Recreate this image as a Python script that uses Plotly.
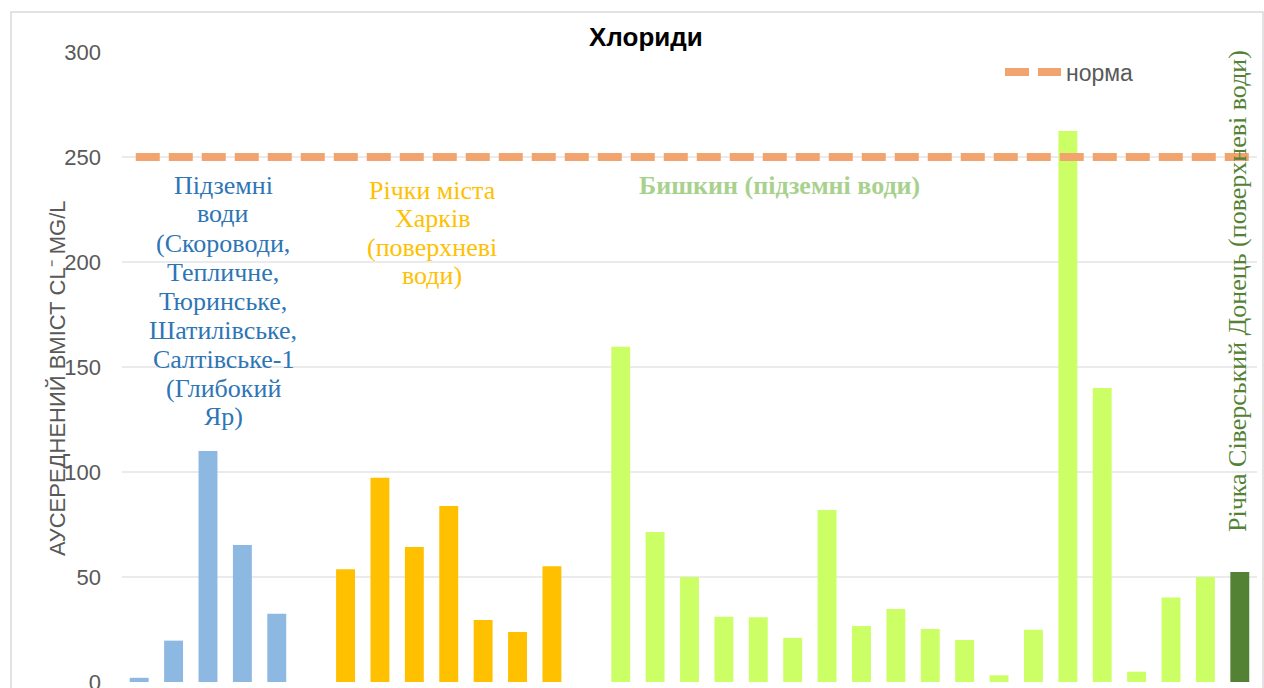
import plotly.graph_objects as go

# Chloride values, mg/L
groundwater = [2.0, 19.7, 110.0, 65.2, 32.5]                    # blue
kharkiv_rivers = [53.7, 97.3, 64.3, 83.8, 29.5, 23.8, 55.1]     # yellow
byshkyn = [159.7, 71.4, 50.0, 31.1, 30.8, 21.0, 81.9, 26.7, 34.8,
           25.2, 20.0, 3.2, 24.9, 262.4, 140.0, 4.9, 40.2, 50.0]  # light green
siverskyi_donets = [52.4]                                       # dark green
norm_value = 250

groundwater_label = ["Підземні", "води", "(Скороводи,", "Тепличне,", "Тюринське,",
                     "Шатилівське,", "Салтівське-1", "(Глибокий", "Яр)"]
rivers_label = ["Річки міста", "Харків", "(поверхневі", "води)"]
byshkyn_label = "Бишкин (підземні води)"
donets_label = "Річка Сіверський Донець (поверхневі води)"

# category slots: one empty slot between groups
groups = [groundwater, kharkiv_rivers, byshkyn, siverskyi_donets]
gaps = [1, 1, 0]
positions = []
start = 0
for i, g in enumerate(groups):
    positions.append(list(range(start, start + len(g))))
    start += len(g) + (gaps[i] if i < len(gaps) else 0)
n_slots = start

COLORS = ["#8DB8E1", "#FFC000", "#CCFF66", "#548235"]
SANS = "Liberation Sans, Arial, sans-serif"
SERIF = "Liberation Serif, Times New Roman, serif"

fig = go.Figure()
for g, pos, col in zip(groups, positions, COLORS):
    fig.add_trace(go.Bar(x=pos, y=g, marker=dict(color=col, line=dict(width=0)),
                         showlegend=False, hoverinfo="y"))

fig.add_trace(go.Scatter(x=[-0.1, n_slots - 0.5], y=[norm_value, norm_value], mode="lines",
                         name="норма",
                         line=dict(color="#F2A46F", width=8, dash="24px,9px")))

W, H = 1264, 688
L, R, T, B = 122, 7, 52, 6
pw, ph = W - L - R, H - T - B


def px_x(x):
    return (x - L) / pw


def px_y(y):
    return (H - B - y) / ph


LINE_H = 29
ann = [
    dict(text="<b>Хлориди</b>", x=px_x(646), y=px_y(37),
         font=dict(family=SANS, size=26, color="#000000")),
    dict(text=f"<b>{byshkyn_label}</b>", x=px_x(779), y=px_y(185),
         font=dict(family=SERIF, size=26, color="#A9D18E")),
    dict(text=donets_label, textangle=-90, x=px_x(1237), y=px_y(291),
         font=dict(family=SERIF, size=26, color="#548235")),
    dict(text="АУСЕРЕДНЕНИЙ ВМІСТ CL⁻ MG/L", textangle=-90,
         x=px_x(58), y=px_y(378),
         font=dict(family=SANS, size=22, color="#595959")),
]
for i, line in enumerate(groundwater_label):
    ann.append(dict(text=line, x=px_x(223), y=px_y(185 + i * LINE_H),
                    font=dict(family=SERIF, size=26, color="#2E75B6")))
for i, line in enumerate(rivers_label):
    ann.append(dict(text=line, x=px_x(432), y=px_y(190 + i * 28.5),
                    font=dict(family=SERIF, size=26, color="#FFC000")))
for a in ann:
    a.update(xref="paper", yref="paper", showarrow=False,
             xanchor="center", yanchor="middle")

fig.update_layout(
    width=W, height=H,
    margin=dict(l=L, r=R, t=T, b=B, autoexpand=False),
    plot_bgcolor="white", paper_bgcolor="white",
    barmode="overlay", bargap=0.45,
    annotations=ann,
    legend=dict(x=px_x(1000), y=px_y(72), xanchor="left", yanchor="middle",
                bgcolor="rgba(0,0,0,0)", itemwidth=56,
                font=dict(family=SANS, size=23, color="#595959")),
    shapes=[dict(type="rect", xref="paper", yref="paper",
                 x0=px_x(11), x1=px_x(1263), y0=-0.2, y1=px_y(12),
                 line=dict(color="#D9D9D9", width=1.5), layer="below")],
)
fig.update_xaxes(range=[-0.5, n_slots - 0.5], showticklabels=False, showgrid=False,
                 zeroline=False, showline=False, automargin=False)
fig.update_yaxes(range=[0, 300], dtick=50, showgrid=True, gridcolor="#EBEBEB",
                 gridwidth=1.5, zeroline=False, showline=False, ticks="",
                 ticklabelstandoff=20, ticklabeloverflow="allow", automargin=False,
                 tickfont=dict(family=SANS, size=22, color="#595959"))

fig.write_html("out.html", config={"displayModeBar": False},
               post_script="document.body.style.margin='0';")
